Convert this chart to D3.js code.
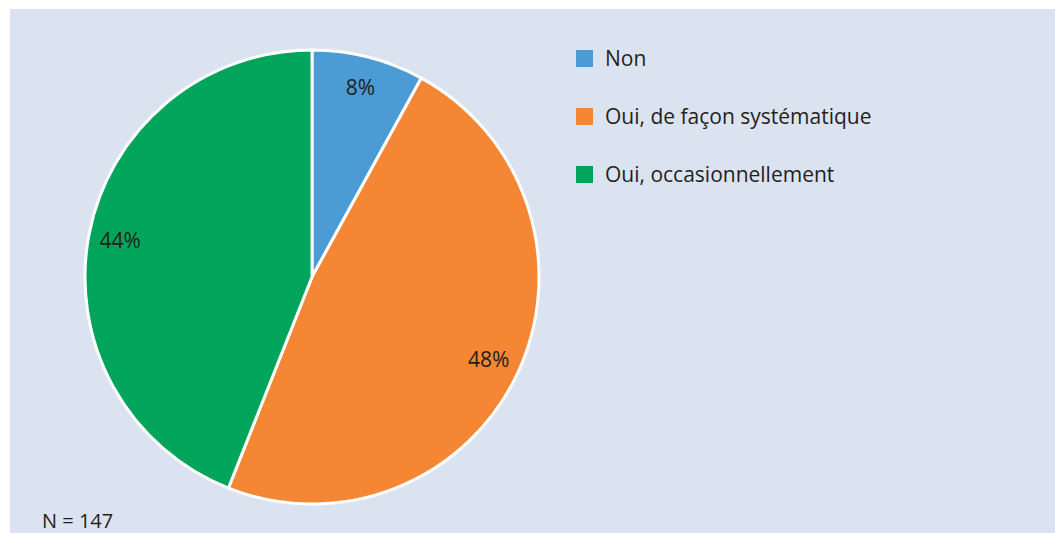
<!DOCTYPE html>
<html>
<head>
<meta charset="utf-8">
<script src="https://d3js.org/d3.v7.min.js"></script>
<style>
  body { margin: 0; background: #fff; }
  text { font-family: "Open Sans", "Noto Sans", sans-serif; fill: #231f20; }
</style>
</head>
<body>
<div id="chart"></div>
<script>
// data
const categories = ["Non", "Oui, de façon systématique", "Oui, occasionnellement"];
const values = [8, 48, 44];
const labels = ["8%", "48%", "44%"];
const colors = ["#4b9bd5", "#f58634", "#00a55b"];
const note = "N = 147";

const width = 1055, height = 533;
const cx = 312, cy = 277, radius = 227;

const svg = d3.select("#chart").append("svg")
    .attr("width", width)
    .attr("height", height);

// panel background
svg.append("rect")
    .attr("x", 10).attr("y", 9)
    .attr("width", width - 10).attr("height", height - 9)
    .attr("fill", "#dce3f0");

const pie = d3.pie().sort(null).value(d => d)(values);
const arc = d3.arc().innerRadius(0).outerRadius(radius);
const labelArc = d3.arc().innerRadius(radius * 0.86).outerRadius(radius * 0.86);

const g = svg.append("g").attr("transform", `translate(${cx},${cy})`);

g.selectAll("path")
    .data(pie)
    .enter()
    .append("path")
    .attr("d", arc)
    .attr("fill", (d, i) => colors[i])
    .attr("stroke", "#fff")
    .attr("stroke-width", 3)
    .attr("stroke-linejoin", "round");

g.selectAll("text.lbl")
    .data(pie)
    .enter()
    .append("text")
    .attr("class", "lbl")
    .attr("transform", d => `translate(${labelArc.centroid(d)})`)
    .attr("text-anchor", "middle")
    .attr("dy", "0.35em")
    .style("font-size", "21px")
    .text((d, i) => labels[i]);

// legend
const legend = svg.append("g").attr("transform", "translate(576,50)");
const item = legend.selectAll("g")
    .data(categories)
    .enter()
    .append("g")
    .attr("transform", (d, i) => `translate(0,${i * 58})`);

item.append("rect")
    .attr("width", 17).attr("height", 17)
    .attr("fill", (d, i) => colors[i]);

item.append("text")
    .attr("x", 29).attr("y", 9)
    .attr("dy", "0.35em")
    .style("font-size", "21px")
    .text(d => d);

svg.append("text")
    .attr("x", 42).attr("y", 528)
    .style("font-size", "20px")
    .text(note);
</script>
</body>
</html>
